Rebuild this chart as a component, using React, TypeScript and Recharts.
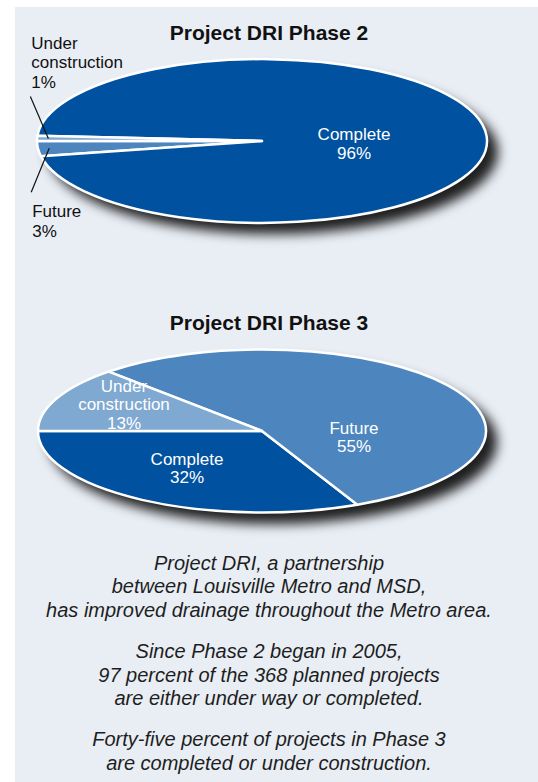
import React from 'react';
import { PieChart, Pie, Cell } from 'recharts';

// Phase 2 (order starts at 9 o'clock and runs counter-clockwise)
const phase2Names = ['Future', 'Complete', 'Under construction'];
const phase2Values = [3, 96, 1];
const phase2Colors = ['#4d86bf', '#00519f', '#80a9d1'];

// Phase 3
const phase3Names = ['Complete', 'Future', 'Under construction'];
const phase3Values = [32, 55, 13];
const phase3Colors = ['#00519f', '#4d86bf', '#80a9d1'];

const notes = [
  ['Project DRI, a partnership', 'between Louisville Metro and MSD,', 'has improved drainage throughout the Metro area.'],
  ['Since Phase 2 began in 2005,', '97 percent of the 368 planned projects', 'are either under way or completed.'],
  ['Forty-five percent of projects in Phase 3', 'are completed or under construction.'],
];

const RAD = Math.PI / 180;
const TILT = 0.364; // vertical squash of the pie
const FONT = '"Liberation Sans", Arial, sans-serif';
const START = 180;
const NO_MARGIN = { top: 0, right: 0, bottom: 0, left: 0 };

const phase2 = phase2Names.map((name, i) => ({ name, value: phase2Values[i] }));
const phase3 = phase3Names.map((name, i) => ({ name, value: phase3Values[i] }));

const ellipseSector = (props: any) => {
  const { cx, cy, outerRadius, startAngle, endAngle, fill } = props;
  const rx = outerRadius;
  const ry = outerRadius * TILT;
  const pt = (a: number) => [cx + rx * Math.cos(a * RAD), cy - ry * Math.sin(a * RAD)];
  const [x1, y1] = pt(startAngle);
  const [x2, y2] = pt(endAngle);
  const large = Math.abs(endAngle - startAngle) > 180 ? 1 : 0;
  const sweep = endAngle > startAngle ? 0 : 1;
  const d = `M${cx},${cy} L${x1},${y1} A${rx},${ry} 0 ${large} ${sweep} ${x2},${y2} Z`;
  return <path d={d} fill={fill} stroke="#ffffff" strokeWidth={2.5} strokeLinejoin="round" />;
};

// soft drop shadow under the tilted pie
const Shadow = ({ cx, cy, r }: { cx: number; cy: number; r: number }) => (
  <div
    style={{
      position: 'absolute',
      left: cx - r + 11,
      top: cy - r * TILT + 11,
      width: 2 * r,
      height: 2 * r * TILT,
      borderRadius: '50%',
      background: 'rgba(20,20,20,0.95)',
      filter: 'blur(6px)',
    }}
  />
);

const insideLabelPos: Record<string, Record<string, [number, number]>> = {
  p2: { Complete: [92, 2] },
  p3: { Complete: [-75, 37], Future: [92, 6], 'Under construction': [-138, -27] },
};

const labelLines = (name: string, value: number) =>
  name === 'Under construction' ? ['Under', 'construction', `${value}%`] : [name, `${value}%`];

const renderPhase2Label = (props: any) => {
  const { cx, cy, midAngle, outerRadius, name, value } = props;
  const lines = labelLines(name, value);
  if (name === 'Complete') {
    const [dx, dy] = insideLabelPos.p2[name];
    return (
      <text x={cx + dx} y={cy + dy - ((lines.length - 1) * 19) / 2} textAnchor="middle" dominantBaseline="central" fill="#fff" fontSize={17} fontFamily={FONT}>
        {lines.map((l, i) => (
          <tspan key={i} x={cx + dx} dy={i === 0 ? 0 : 19}>{l}</tspan>
        ))}
      </text>
    );
  }
  const ix = cx + 0.95 * outerRadius * Math.cos(midAngle * RAD);
  const iy = cy - 0.95 * outerRadius * TILT * Math.sin(midAngle * RAD);
  const up = name === 'Under construction';
  const ox = ix - 18;
  const oy = up ? iy - 42 : iy + 44;
  const tx = ox + 1;
  const firstY = up ? oy - 54 : oy + 19;
  return (
    <g>
      <line x1={ix} y1={iy} x2={ox} y2={oy} stroke="#111" strokeWidth={1.2} />
      <text x={tx} y={firstY} textAnchor="start" dominantBaseline="central" fill="#111" fontSize={17} fontFamily={FONT}>
        {lines.map((l, i) => (
          <tspan key={i} x={tx} dy={i === 0 ? 0 : 19.5}>{l}</tspan>
        ))}
      </text>
    </g>
  );
};

const renderPhase3Label = (props: any) => {
  const { cx, cy, name, value } = props;
  const lines = labelLines(name, value);
  const [dx, dy] = insideLabelPos.p3[name];
  return (
    <text x={cx + dx} y={cy + dy - ((lines.length - 1) * 18.5) / 2} textAnchor="middle" dominantBaseline="central" fill="#fff" fontSize={17} fontFamily={FONT}>
      {lines.map((l, i) => (
        <tspan key={i} x={cx + dx} dy={i === 0 ? 0 : 18.5}>{l}</tspan>
      ))}
    </text>
  );
};

const titleStyle: React.CSSProperties = {
  position: 'absolute',
  left: 0,
  width: 538,
  textAlign: 'center',
  fontFamily: FONT,
  fontWeight: 'bold',
  fontSize: 21,
  color: '#111',
  lineHeight: '24px',
};

export default function App() {
  return (
    <div style={{ position: 'absolute', left: 0, top: 0, width: 538, height: 782, background: '#ffffff', overflow: 'hidden' }}>
      <div style={{ position: 'absolute', left: 15, top: 7, width: 523, height: 775, background: '#e9eef5' }} />
      <div style={{ ...titleStyle, top: 21 }}>Project DRI Phase 2</div>
      <div style={{ position: 'absolute', left: 0, top: 0, width: 538, height: 260 }}>
        <Shadow cx={262} cy={141} r={225} />
        <div style={{ position: 'absolute', left: 0, top: 0 }}>
          <PieChart width={538} height={260} margin={NO_MARGIN}>
            <Pie
              data={phase2}
              dataKey="value"
              nameKey="name"
              cx={262}
              cy={141}
              outerRadius={225}
              startAngle={START}
              endAngle={START + 360}
              stroke="none"
              shape={ellipseSector}
              activeShape={ellipseSector}
              inactiveShape={ellipseSector}
              label={renderPhase2Label}
              labelLine={false}
              isAnimationActive={false}
            >
              {phase2.map((d, i) => (
                <Cell key={d.name} fill={phase2Colors[i]} />
              ))}
            </Pie>
          </PieChart>
        </div>
      </div>
      <div style={{ ...titleStyle, top: 311 }}>Project DRI Phase 3</div>
      <div style={{ position: 'absolute', left: 0, top: 290, width: 538, height: 260 }}>
        <Shadow cx={262} cy={141} r={224} />
        <div style={{ position: 'absolute', left: 0, top: 0 }}>
          <PieChart width={538} height={260} margin={NO_MARGIN}>
            <Pie
              data={phase3}
              dataKey="value"
              nameKey="name"
              cx={262}
              cy={141}
              outerRadius={224}
              startAngle={START}
              endAngle={START + 360}
              stroke="none"
              shape={ellipseSector}
              activeShape={ellipseSector}
              inactiveShape={ellipseSector}
              label={renderPhase3Label}
              labelLine={false}
              isAnimationActive={false}
            >
              {phase3.map((d, i) => (
                <Cell key={d.name} fill={phase3Colors[i]} />
              ))}
            </Pie>
          </PieChart>
        </div>
      </div>
      <div style={{ position: 'absolute', left: 0, width: 538, top: 552, textAlign: 'center', fontFamily: FONT, fontStyle: 'italic', fontSize: 20, color: '#1e1e1e', lineHeight: '23.4px' }}>
        {notes.map((para, i) => (
          <div key={i} style={{ marginBottom: 18 }}>
            {para.map((l) => (
              <div key={l}>{l}</div>
            ))}
          </div>
        ))}
      </div>
    </div>
  );
}
